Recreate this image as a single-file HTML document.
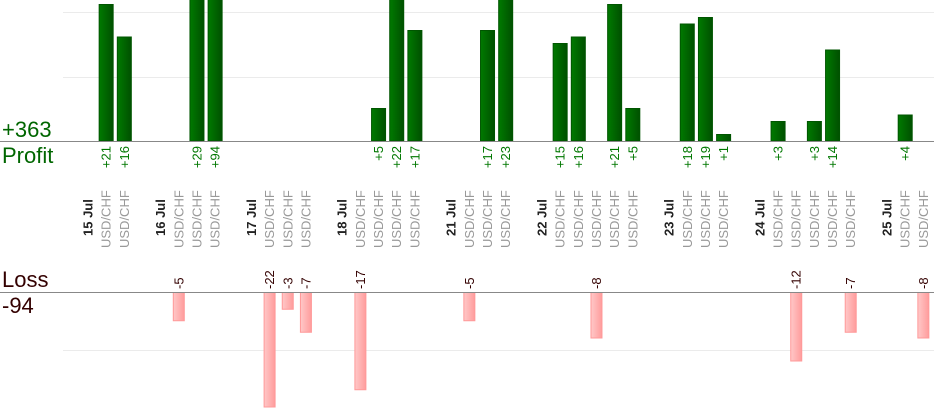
<!DOCTYPE html>
<html><head><meta charset="utf-8"><style>
html,body{margin:0;padding:0;background:#fff;}
svg{display:block;font-family:"Liberation Sans",Arial,sans-serif;}
</style></head><body>
<svg id="chart" width="934" height="420" viewBox="0 0 934 420" xmlns="http://www.w3.org/2000/svg">
<defs>
<linearGradient id="gg" x1="0" x2="1" y1="0" y2="0"><stop offset="0" stop-color="#007a00"/><stop offset="1" stop-color="#005000"/></linearGradient>
<linearGradient id="pg" x1="0" x2="1" y1="0" y2="0"><stop offset="0" stop-color="#ffc8c8"/><stop offset="1" stop-color="#ff9c9c"/></linearGradient>
</defs>
<line x1="63" x2="934" y1="12.5" y2="12.5" stroke="#ebebeb"/>
<line x1="63" x2="934" y1="77.5" y2="77.5" stroke="#ebebeb"/>
<line x1="63" x2="934" y1="350.5" y2="350.5" stroke="#ebebeb"/>
<g id="bars"></g>
<line x1="0" x2="934" y1="141.5" y2="141.5" stroke="#888"/>
<line x1="0" x2="934" y1="292.5" y2="292.5" stroke="#888"/>
<text x="2" y="137" font-size="22" fill="#006600">+363</text>
<text x="2" y="163" font-size="22" fill="#006600">Profit</text>
<text x="2" y="287" font-size="22" fill="#330000">Loss</text>
<text x="2" y="313" font-size="22" fill="#330000">-94</text>
</svg>
<script>
// slot categories: "D:<date>" = date header, "P" = USD/CHF trade, "" = gap
const categories = ["D:15 Jul","P","P","","D:16 Jul","P","P","P","","D:17 Jul","P","P","P","","D:18 Jul","P","P","P","P","","D:21 Jul","P","P","P","","D:22 Jul","P","P","P","P","P","","D:23 Jul","P","P","P","","D:24 Jul","P","P","P","P","P","","D:25 Jul","P","P"];
const profitValues = [0,21,16,0,0,0,29,94,0,0,0,0,0,0,0,0,5,22,17,0,0,0,17,23,0,0,15,16,0,21,5,0,0,18,19,1,0,0,3,0,3,14,0,0,0,4,0];
const lossValues = [0,0,0,0,0,-5,0,0,0,0,-22,-3,-7,0,0,-17,0,0,0,0,0,-5,0,0,0,0,0,0,-8,0,0,0,0,0,0,0,0,0,0,-12,0,0,-7,0,0,0,-8];
const pairLabel = "USD/CHF";

const NS = "http://www.w3.org/2000/svg";
const g = document.getElementById("bars");
const xPos = i => 88 + i * 18.16;
const yProfit = v => 141 - v * 6.5;
const yLoss = v => 292 - v * 5.75;
function mk(tag, attrs){const e=document.createElementNS(NS,tag);for(const k in attrs)e.setAttribute(k,attrs[k]);return e;}
function vtext(x,y,str,size,fill,anchor,weight){
  const t=mk("text",{x:0,y:0,"font-size":size,fill:fill,"text-anchor":anchor,"dominant-baseline":"central","font-weight":weight||"normal",transform:`translate(${x},${y}) rotate(-90)`});
  t.textContent=str;return t;
}
categories.forEach((c,i)=>{
  const x = xPos(i);
  if(c.startsWith("D:")){
    const t=vtext(x,236,c.slice(2),13,"#222","start","bold");
    
    
    g.appendChild(t);
  } else if(c==="P"){
    const t=vtext(x,248,pairLabel,13,"#999","start");
    
    
    g.appendChild(t);
  }
  const p = profitValues[i];
  if(p>0){
    const top=Math.max(yProfit(p),-2);
    const r=mk("rect",{x:x-7,y:top,width:14,height:141-top,fill:"url(#gg)",stroke:"#005500","stroke-width":1});
    
    
    g.appendChild(r);
    const t=vtext(x,146,"+"+p,13,"#007700","end");
    
    
    g.appendChild(t);
  }
  const l = lossValues[i];
  if(l<0){
    const bot=Math.min(yLoss(l),407);
    const r=mk("rect",{x:x-5.5,y:292.5,width:11,height:Math.max(bot-292.5,1),fill:"url(#pg)",stroke:"#ff9999","stroke-width":1});
    
    
    g.appendChild(r);
    const t=vtext(x,289,String(l),13,"#330000","start");
    
    
    g.appendChild(t);
  }
});
</script>
</body></html>
